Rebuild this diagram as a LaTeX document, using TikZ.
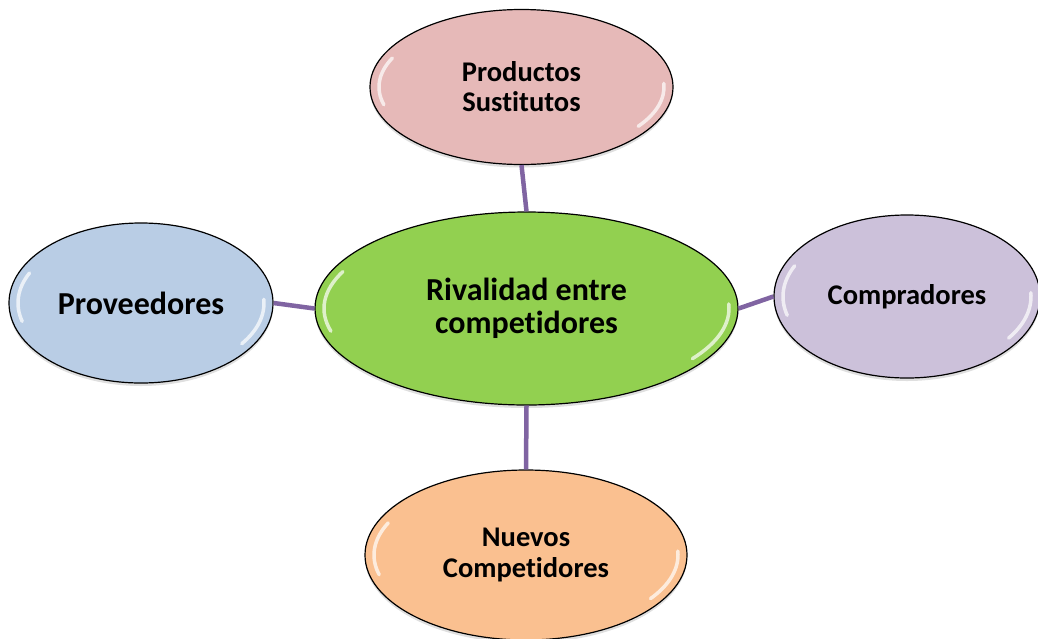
\documentclass[tikz,border=0pt]{standalone}
\usepackage{fontspec}
\setmainfont{Carlito}[Ligatures={NoCommon,NoContextual,NoRare}]
\usetikzlibrary{shapes.geometric,shadows}
\definecolor{cpink}{HTML}{E6B9B8}
\definecolor{cgreen}{HTML}{92D050}
\definecolor{cblue}{HTML}{B9CDE5}
\definecolor{clilac}{HTML}{CCC1DA}
\definecolor{corange}{HTML}{FAC090}
\definecolor{cpurple}{HTML}{8064A2}
\tikzset{
  bubble/.style={ellipse, draw=black, line width=1.2pt, inner sep=0pt,
    align=center, font=\bfseries,
    drop shadow={shadow xshift=0pt, shadow yshift=-3pt, opacity=0.25}},
  link/.style={draw=cpurple, line width=4.5pt},
  gloss/.style={white, line width=3.5pt, opacity=0.7, line cap=round}
}
\newcommand{\glossy}[4]{% cx cy rx ry
  \draw[gloss] (#1,#2) ++(165:{#3-9} and {#4-9}) arc[start angle=165, end angle=205, x radius={#3-9}, y radius={#4-9}];
  \draw[gloss] (#1,#2) ++(-3:{#3-9} and {#4-9}) arc[start angle=-3, end angle=35, x radius={#3-9}, y radius={#4-9}];
}
\begin{document}
\begin{tikzpicture}[x=1pt,y=-1pt]
\useasboundingbox (0,0) rectangle (1038,638);
\node[bubble, fill=cpink, minimum width=303pt, minimum height=155pt, font=\fontsize{28.5}{30}\selectfont\bfseries] (sust) at (521.5,87) {Productos\\Sustitutos};
\node[bubble, fill=cgreen, minimum width=423pt, minimum height=193pt, font=\fontsize{32}{33}\selectfont\bfseries] (riv) at (526.5,308.5) {Rivalidad entre\\competidores};
\node[bubble, fill=cblue, minimum width=264pt, minimum height=160pt, font=\fontsize{32}{33}\selectfont\bfseries] (prov) at (141,303) {Proveedores};
\node[bubble, fill=clilac, minimum width=266pt, minimum height=163pt, font=\fontsize{28.5}{30}\selectfont\bfseries] (comp) at (907,296.5) {Compradores};
\node[bubble, fill=corange, minimum width=322pt, minimum height=170pt, font=\fontsize{28.5}{31}\selectfont\bfseries] (nuev) at (526,555) {Nuevos\\Competidores};
\glossy{521.5}{87}{151.5}{77.5}
\glossy{526.5}{308.5}{211.5}{96.5}
\glossy{141}{303}{132}{80}
\glossy{907}{296.5}{133}{81.5}
\glossy{526}{555}{161}{85}
\draw[link] (sust.south) -- (riv.north);
\draw[link] (prov.east) -- (riv.west);
\draw[link] (riv.east) -- (comp.west);
\draw[link] (riv.south) -- (nuev.north);
\end{tikzpicture}
\end{document}
